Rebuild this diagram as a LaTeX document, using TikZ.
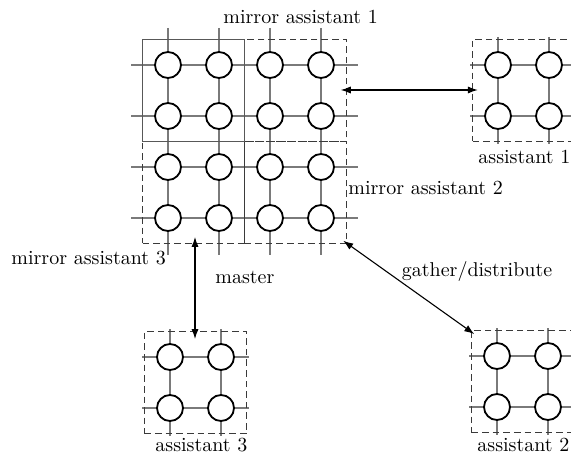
\documentclass[tikz,border=0pt]{standalone}
\usetikzlibrary{arrows.meta}
\definecolor{gridgray}{HTML}{7A7A7A}
\definecolor{boxgray}{HTML}{3A3A3A}

% mesh of processor links: #1,#2 first centre, #3 columns-1, #4 rows-1, #5 overhang
\newcommand\pegrid[5]{%
  \foreach \r in {0,...,#4}{\draw[link] (#1-#5, #2+51*\r) -- (#1+51*#3+#5, #2+51*\r);}%
  \foreach \c in {0,...,#3}{\draw[link] (#1+51*\c, #2-#5) -- (#1+51*\c, #2+51*#4+#5);}%
}
% processing elements: #1,#2 first centre, #3 columns-1, #4 rows-1, #5 name prefix
\newcommand\pecells[5]{%
  \foreach \c in {0,...,#3}{\foreach \r in {0,...,#4}{%
    \node[pe] (#5-\c-\r) at (#1+51*\c, #2+51*\r) {};}}%
}

\begin{document}
\begin{tikzpicture}[x=0.5pt,y=-0.5pt,
  link/.style={draw=gridgray, line width=0.8pt},
  pe/.style={circle, draw=black, fill=white, line width=0.9pt, minimum size=13pt, inner sep=0pt},
  region/.style={draw=boxgray, line width=0.75pt, minimum width=51pt, minimum height=51pt, inner sep=0pt},
  dbox/.style={region, dash pattern=on 3.3pt off 2pt},
  mbox/.style={region, draw=boxgray!85},
  lbl/.style={font=\fontsize{10}{12}\selectfont, inner sep=0pt, anchor=base west},
  dbl/.style={{Latex[length=5pt,width=3.6pt]}-{Latex[length=5pt,width=3.6pt]}, line width=0.55pt}
]
\useasboundingbox (0,0) rectangle (571,458);
\clip (0,0) rectangle (571,458);

% links
\pegrid{168}{65}{3}{3}{37}
\pegrid{498}{65}{1}{1}{28}
\pegrid{170}{357}{1}{1}{28}
\pegrid{497}{356}{1}{1}{28}

% regions
\node[dbox] (ma1) at (295.5,90.5) {};
\node[dbox] (ma3) at (193.5,192.5) {};
\node[dbox] (ma2) at (295.5,192.5) {};
\node[dbox] (a1) at (523.5,90.5) {};
\node[dbox] (a3) at (195.5,382.5) {};
\node[dbox] (a2) at (522.5,381.5) {};
\node[mbox] (master) at (193.5,90.5) {};

% processors
\pecells{168}{65}{3}{3}{m}
\pecells{498}{65}{1}{1}{p}
\pecells{170}{357}{1}{1}{q}
\pecells{497}{356}{1}{1}{s}

% labels
\node[lbl] (lma1) at (223,23.3) {mirror assistant 1};
\node[lbl] (la1) at (478,163.3) {assistant 1};
\node[lbl] (lma2) at (348,195) {mirror assistant 2};
\node[lbl] (lma3) at (11,265) {mirror assistant 3};
\node[lbl] (lm) at (215,283.3) {master};
\node[lbl] (lgd) at (401.5,276.7) {gather/distribute};
\node[lbl] (la3) at (155,451.7) {assistant 3};
\node[lbl] (la2) at (477,451.7) {assistant 2};

% transfers
\coordinate (e1) at ([xshift=-3.25pt,yshift=0.25pt]ma1.east);
\coordinate (f1) at ([xshift=3pt,yshift=0.25pt]a1.west);
\coordinate (e3) at (195,237);
\coordinate (f3) at (195,339);
\coordinate (e2) at ([xshift=-2pt,yshift=1.75pt]ma2.south east);
\coordinate (f2) at ([xshift=1.75pt,yshift=-2.15pt]a2.north west);
\draw[dbl] (e1) -- (f1);
\draw[dbl] (e3) -- (f3);
\draw[dbl] (e2) -- (f2);
\end{tikzpicture}
\end{document}
